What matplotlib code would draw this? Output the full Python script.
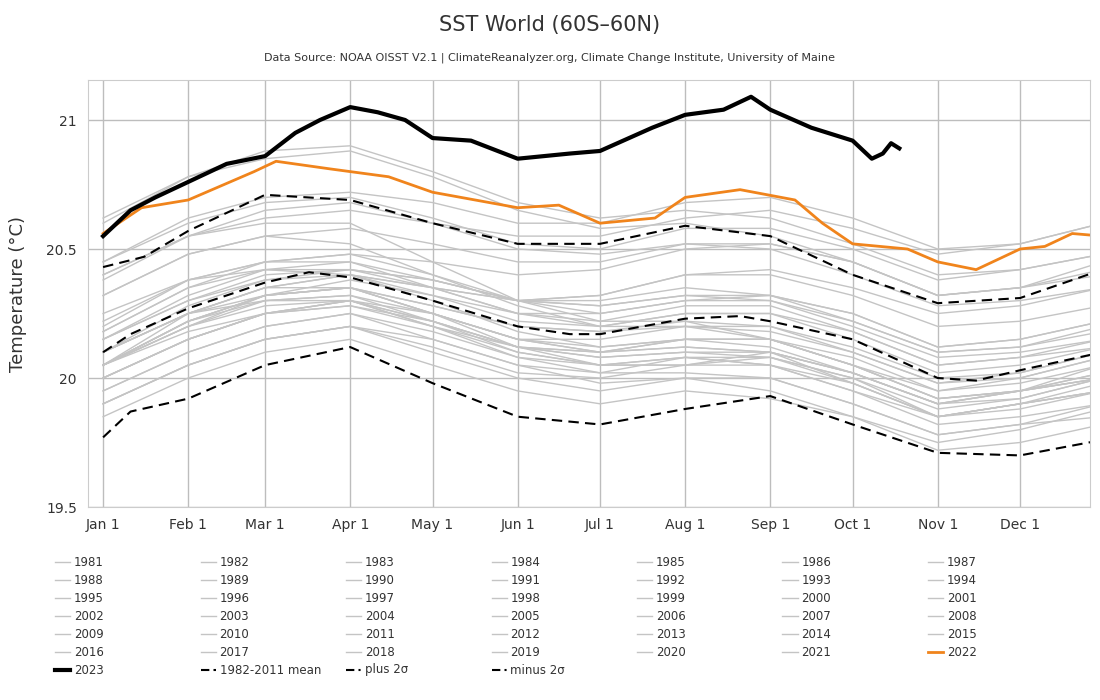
import matplotlib
matplotlib.use("Agg")
import matplotlib.pyplot as plt
from matplotlib.lines import Line2D
import numpy as np

month_days = [0, 31, 59, 90, 120, 151, 181, 212, 243, 273, 304, 334, 364]
month_labels = ["Jan 1","Feb 1","Mar 1","Apr 1","May 1","Jun 1","Jul 1","Aug 1","Sep 1","Oct 1","Nov 1","Dec 1"]

gray_years = list(range(1981, 2022))
gray_values = [
[20.05,20.18,20.25,20.30,20.20,20.10,20.05,20.05,20.10,19.98,19.85,19.88,19.95],
[19.95,20.10,20.20,20.25,20.15,20.05,19.98,20.00,19.95,19.85,19.75,19.80,19.88],
[20.05,20.25,20.35,20.35,20.25,20.12,20.05,20.08,20.05,19.95,19.85,19.90,19.95],
[19.90,20.05,20.15,20.20,20.10,20.00,19.95,20.00,20.00,19.90,19.78,19.82,19.85],
[19.85,20.00,20.10,20.15,20.05,19.95,19.90,19.95,19.92,19.85,19.72,19.75,19.82],
[19.90,20.05,20.15,20.20,20.12,20.02,20.00,20.05,20.08,20.00,19.85,19.90,19.98],
[20.05,20.20,20.32,20.35,20.28,20.20,20.18,20.20,20.20,20.12,20.00,20.02,20.10],
[20.10,20.25,20.30,20.32,20.22,20.10,20.05,20.05,20.05,19.95,19.82,19.85,19.90],
[19.90,20.05,20.15,20.20,20.15,20.05,20.02,20.08,20.08,20.00,19.88,19.92,20.00],
[20.05,20.22,20.30,20.32,20.25,20.15,20.10,20.15,20.15,20.05,19.95,19.98,20.05],
[20.05,20.22,20.32,20.35,20.25,20.15,20.10,20.12,20.10,20.02,19.90,19.95,20.02],
[20.05,20.20,20.30,20.30,20.20,20.08,20.02,20.02,20.00,19.90,19.78,19.82,19.90],
[19.95,20.10,20.20,20.25,20.18,20.08,20.05,20.08,20.05,19.98,19.85,19.90,19.95],
[20.00,20.15,20.25,20.28,20.22,20.12,20.10,20.15,20.15,20.08,19.95,20.00,20.08],
[20.10,20.25,20.32,20.35,20.25,20.15,20.12,20.15,20.15,20.05,19.92,19.95,20.00],
[20.00,20.15,20.25,20.30,20.22,20.12,20.08,20.10,20.10,20.02,19.90,19.95,20.05],
[20.10,20.25,20.35,20.40,20.35,20.30,20.32,20.40,20.42,20.35,20.25,20.28,20.35],
[20.40,20.55,20.60,20.60,20.45,20.30,20.22,20.22,20.15,20.05,19.92,19.95,20.00],
[20.05,20.20,20.28,20.30,20.22,20.12,20.08,20.10,20.08,19.98,19.85,19.90,19.95],
[20.00,20.15,20.25,20.28,20.20,20.12,20.10,20.12,20.10,20.02,19.90,19.95,20.00],
[20.05,20.22,20.32,20.38,20.32,20.22,20.20,20.25,20.25,20.15,20.02,20.05,20.12],
[20.15,20.30,20.40,20.42,20.38,20.30,20.28,20.32,20.30,20.22,20.10,20.12,20.20],
[20.20,20.38,20.45,20.45,20.35,20.25,20.22,20.28,20.28,20.18,20.05,20.08,20.12],
[20.15,20.32,20.42,20.42,20.35,20.25,20.20,20.25,20.25,20.18,20.05,20.08,20.15],
[20.18,20.35,20.45,20.48,20.40,20.30,20.25,20.30,20.30,20.20,20.08,20.10,20.15],
[20.15,20.30,20.38,20.40,20.32,20.25,20.25,20.30,20.32,20.25,20.12,20.15,20.22],
[20.25,20.38,20.42,20.40,20.30,20.18,20.12,20.15,20.12,20.02,19.90,19.92,20.00],
[20.00,20.15,20.25,20.30,20.25,20.15,20.15,20.20,20.18,20.10,19.98,20.00,20.08],
[20.10,20.25,20.35,20.40,20.35,20.30,20.32,20.40,20.40,20.32,20.20,20.22,20.28],
[20.32,20.48,20.55,20.52,20.40,20.28,20.20,20.20,20.15,20.05,19.92,19.95,20.02],
[20.05,20.22,20.32,20.35,20.28,20.20,20.18,20.22,20.20,20.10,19.98,20.02,20.10],
[20.10,20.28,20.38,20.42,20.38,20.30,20.30,20.35,20.32,20.22,20.10,20.12,20.18],
[20.18,20.35,20.42,20.45,20.38,20.30,20.28,20.32,20.32,20.25,20.12,20.15,20.22],
[20.22,20.38,20.45,20.48,20.45,20.40,20.42,20.50,20.52,20.45,20.32,20.35,20.42],
[20.40,20.55,20.62,20.65,20.60,20.55,20.55,20.62,20.65,20.58,20.48,20.52,20.60],
[20.62,20.78,20.85,20.88,20.78,20.65,20.58,20.60,20.55,20.45,20.32,20.35,20.40],
[20.38,20.55,20.65,20.68,20.60,20.50,20.48,20.52,20.50,20.40,20.28,20.30,20.35],
[20.32,20.48,20.55,20.58,20.52,20.45,20.45,20.52,20.52,20.45,20.32,20.35,20.45],
[20.45,20.62,20.70,20.72,20.68,20.60,20.60,20.68,20.70,20.62,20.50,20.52,20.60],
[20.60,20.78,20.88,20.90,20.80,20.68,20.62,20.65,20.62,20.52,20.40,20.42,20.48],
[20.45,20.60,20.68,20.70,20.62,20.52,20.50,20.58,20.58,20.50,20.38,20.42,20.48],
]

mean_days = [0,10,31,59,75,90,120,151,170,181,212,232,243,273,304,318,334,364]
mean_vals = [20.10,20.17,20.27,20.37,20.41,20.39,20.30,20.20,20.17,20.17,20.23,20.24,20.22,20.15,20.00,19.99,20.03,20.10]

plus_days = [0,15,31,59,90,120,151,181,212,243,273,304,334,364]
plus_vals = [20.43,20.47,20.57,20.71,20.69,20.60,20.52,20.52,20.59,20.55,20.40,20.29,20.31,20.42]

minus_days = [0,10,31,59,90,120,151,181,212,243,273,304,334,364]
minus_vals = [19.77,19.87,19.92,20.05,20.12,19.98,19.85,19.82,19.88,19.93,19.82,19.71,19.70,19.76]

y2023_days = [0,10,19,31,45,59,70,79,90,100,110,120,134,151,170,181,200,212,226,236,243,258,273,280,284,287,290]
y2023_vals = [20.55,20.65,20.70,20.76,20.83,20.86,20.95,21.00,21.05,21.03,21.00,20.93,20.92,20.85,20.87,20.88,20.97,21.02,21.04,21.09,21.04,20.97,20.92,20.85,20.87,20.91,20.89]

y2022_days = [0,14,31,55,63,83,104,120,151,166,181,201,212,232,252,262,273,293,304,318,334,343,353,364]
y2022_vals = [20.56,20.66,20.69,20.80,20.84,20.81,20.78,20.72,20.66,20.67,20.60,20.62,20.70,20.73,20.69,20.60,20.52,20.50,20.45,20.42,20.50,20.51,20.56,20.55]

gray = "#c4c4c4"
fig = plt.figure(figsize=(11, 7), dpi=100)
ax = fig.add_axes([0.08, 0.2757, 0.911, 0.61])
for yv in gray_values:
    ax.plot(month_days, yv, color=gray, lw=1)
ax.plot(mean_days, mean_vals, color="black", lw=1.5, ls=(0, (5, 3)))
ax.plot(plus_days, plus_vals, color="black", lw=1.5, ls=(0, (5, 3)))
ax.plot(minus_days, minus_vals, color="black", lw=1.5, ls=(0, (5, 3)))
ax.plot(y2022_days, y2022_vals, color="#f0841c", lw=2)
ax.plot(y2023_days, y2023_vals, color="black", lw=3)

ax.set_xlim(-5.5, 359.5)
ax.set_ylim(19.5, 21.155)
ax.set_xticks(month_days[:12])
ax.set_xticklabels(month_labels)
ax.set_yticks([19.5, 20, 20.5, 21])
ax.set_yticklabels(["19.5", "20", "20.5", "21"])
ax.grid(True, color="#bdbdbd", lw=1)
ax.set_axisbelow(True)
ax.tick_params(length=0, labelsize=10, colors="#333333", pad=8)
for s in ax.spines.values():
    s.set_color("#cccccc")
ax.set_ylabel("Temperature (°C)", fontsize=13, color="#333333", labelpad=14)

fig.text(0.5, 0.965, "SST World (60S–60N)", ha="center", va="center", fontsize=15, color="#333333")
fig.text(0.5, 0.918, "Data Source: NOAA OISST V2.1 | ClimateReanalyzer.org, Climate Change Institute, University of Maine",
         ha="center", va="center", fontsize=8, color="#333333")

# legend
entries = [(str(y), dict(color=gray, lw=1)) for y in gray_years]
entries.append(("2022", dict(color="#f0841c", lw=2)))
order = entries[:35] + entries[35:41] + [entries[41]]
order.append(("2023", dict(color="black", lw=3)))
order.append(("1982-2011 mean", dict(color="black", lw=1.5, ls=(0, (4, 2)))))
order.append(("plus 2σ", dict(color="black", lw=1.5, ls=(0, (4, 2, 1, 2)))))
order.append(("minus 2σ", dict(color="black", lw=1.5, ls=(0, (4, 2, 1, 2)))))
for i, (lab, st) in enumerate(order):
    r, c = divmod(i, 7)
    x0 = 55 + c * 145.5
    y0 = 562 + r * 18
    yf = 1 - y0 / 700
    fig.add_artist(Line2D([x0 / 1100, (x0 + 15) / 1100], [yf, yf], **st))
    fig.text((x0 + 19) / 1100, yf, lab, ha="left", va="center", fontsize=8.5, color="#333333")

fig.savefig("out.png", dpi=100)
